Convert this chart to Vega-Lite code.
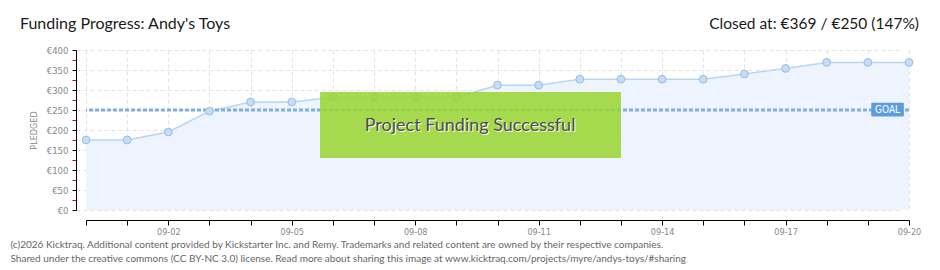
{
  "$schema": "https://vega.github.io/schema/vega-lite/v6.json",
  "width": 823,
  "height": 160,
  "autosize": {"type": "none"},
  "padding": {"left": 86, "top": 50, "right": 31, "bottom": 60},
  "background": "#ffffff",
  "config": {
    "view": {"stroke": null},
    "font": "Lato",
    "axisY": {
      "labelOverlap": false,
      "offset": 10,
      "domainColor": "#000000",
      "tickSize": 4,
      "labelColor": "#888888",
      "labelFont": "DejaVu Sans Condensed",
      "labelFontSize": 9.5,
      "labelPadding": 4,
      "grid": true,
      "gridDash": [4, 3],
      "titleFont": "DejaVu Sans Condensed",
      "titleFontSize": 9,
      "titleFontWeight": "normal",
      "titleColor": "#888888",
      "titlePadding": 8
    }
  },
  "datasets": {
    "series": [
      {"date": "2013-08-31", "pledged": 175},
      {"date": "2013-09-01", "pledged": 175},
      {"date": "2013-09-02", "pledged": 195},
      {"date": "2013-09-03", "pledged": 247},
      {"date": "2013-09-04", "pledged": 270},
      {"date": "2013-09-05", "pledged": 270},
      {"date": "2013-09-06", "pledged": 282},
      {"date": "2013-09-07", "pledged": 282},
      {"date": "2013-09-08", "pledged": 282},
      {"date": "2013-09-09", "pledged": 282},
      {"date": "2013-09-10", "pledged": 312},
      {"date": "2013-09-11", "pledged": 312},
      {"date": "2013-09-12", "pledged": 327},
      {"date": "2013-09-13", "pledged": 327},
      {"date": "2013-09-14", "pledged": 327},
      {"date": "2013-09-15", "pledged": 327},
      {"date": "2013-09-16", "pledged": 340},
      {"date": "2013-09-17", "pledged": 354},
      {"date": "2013-09-18", "pledged": 369},
      {"date": "2013-09-19", "pledged": 369},
      {"date": "2013-09-20", "pledged": 369}
    ]
  },
  "layer": [
    {
      "data": {"name": "series"},
      "mark": {"type": "area", "color": "#edf4fd", "opacity": 1},
      "encoding": {
        "x": {
          "field": "date",
          "type": "temporal",
          "scale": {"type": "utc", "domain": [1377907200000, 1379635200000], "nice": false},
          "axis": {
            "values": [1377907200000, 1377993600000, 1378080000000, 1378166400000, 1378252800000, 1378339200000, 1378425600000, 1378512000000, 1378598400000, 1378684800000, 1378771200000, 1378857600000, 1378944000000, 1379030400000, 1379116800000, 1379203200000, 1379289600000, 1379376000000, 1379462400000, 1379548800000, 1379635200000],
            "labelExpr": "utcdate(datum.value) % 3 == 2 ? utcFormat(datum.value, '%m-%d') : ''",
            "labelOverlap": false,
            "labelFlush": false,
            "offset": 10,
            "domainColor": "#000000",
            "domainWidth": 1,
            "tickColor": "#000000",
            "tickSize": 5,
            "labelColor": "#888888",
            "labelFont": "DejaVu Sans Condensed",
            "labelFontSize": 9,
            "labelPadding": 2,
            "grid": true,
            "gridColor": "#e3e3e3",
            "gridDash": [4, 3],
            "title": [
              "(c)2026 Kicktraq. Additional content provided by Kickstarter Inc. and Remy. Trademarks and related content are owned by their respective companies.",
              "Shared under the creative commons (CC BY-NC 3.0) license. Read more about sharing this image at www.kicktraq.com/projects/myre/andys-toys/#sharing"
            ],
            "titleAnchor": "start",
            "titleAlign": "left",
            "titleBaseline": "alphabetic",
            "titleX": -76,
            "titleY": 27,
            "titleFont": "Lato",
            "titleFontSize": 10,
            "titleFontWeight": "normal",
            "titleColor": "#666666",
            "titleLineHeight": 14
          }
        },
        "y": {
          "field": "pledged",
          "type": "quantitative",
          "scale": {"domain": [0, 400], "nice": false, "zero": true},
          "axis": {
            "values": [0, 25, 50, 75, 100, 125, 150, 175, 200, 225, 250, 275, 300, 325, 350, 375, 400],
            "labelExpr": "datum.value % 50 == 0 ? '€' + datum.value : ''",
            "tickColor": {"condition": {"test": "datum.value % 50 == 0", "value": "#000000"}, "value": "#e00000"},
            "gridColor": {"condition": {"test": "datum.value % 50 == 0", "value": "#e3e3e3"}, "value": "transparent"},
            "title": "PLEDGED"
          }
        }
      }
    },
    {
      "data": {"name": "series"},
      "mark": {"type": "line", "color": "#b8d5f3", "strokeWidth": 1.5},
      "encoding": {
        "x": {"field": "date", "type": "temporal"},
        "y": {"field": "pledged", "type": "quantitative", "axis": {"values": [0, 25, 50, 75, 100, 125, 150, 175, 200, 225, 250, 275, 300, 325, 350, 375, 400]}}
      }
    },
    {
      "data": {"values": [{"goal": 250}]},
      "mark": {"type": "rule", "color": "#7fafe0", "strokeWidth": 3, "strokeDash": [4, 2]},
      "encoding": {"y": {"field": "goal", "type": "quantitative", "axis": {"values": [0, 25, 50, 75, 100, 125, 150, 175, 200, 225, 250, 275, 300, 325, 350, 375, 400]}}}
    },
    {
      "data": {"name": "series"},
      "mark": {"type": "point", "shape": "circle", "filled": true, "size": 60, "fill": "#c6ddf6", "stroke": "#95bce6", "strokeWidth": 1, "opacity": 1},
      "encoding": {
        "x": {"field": "date", "type": "temporal"},
        "y": {"field": "pledged", "type": "quantitative", "axis": {"values": [0, 25, 50, 75, 100, 125, 150, 175, 200, 225, 250, 275, 300, 325, 350, 375, 400]}}
      }
    },
    {
      "data": {"values": [{"label": "Project Funding Successful"}]},
      "mark": {"type": "rect", "fill": "#99d531", "opacity": 0.86},
      "encoding": {
        "x": {"datum": 1378398600000, "type": "temporal"},
        "x2": {"datum": 1379030400000},
        "y": {"datum": 295, "type": "quantitative", "axis": {"values": [0, 25, 50, 75, 100, 125, 150, 175, 200, 225, 250, 275, 300, 325, 350, 375, 400]}},
        "y2": {"datum": 130}
      }
    },
    {
      "data": {"values": [{"label": "Project Funding Successful"}]},
      "mark": {"type": "text", "color": "#ffffff", "fontSize": 18, "font": "Lato", "align": "center", "baseline": "middle", "dx": 1, "dy": 1},
      "encoding": {
        "x": {"datum": 1378713600000, "type": "temporal"},
        "y": {"datum": 210, "type": "quantitative", "axis": {"values": [0, 25, 50, 75, 100, 125, 150, 175, 200, 225, 250, 275, 300, 325, 350, 375, 400]}},
        "text": {"field": "label", "type": "nominal"}
      }
    },
    {
      "data": {"values": [{"label": "Project Funding Successful"}]},
      "mark": {"type": "text", "color": "#4d4d4d", "fontSize": 18, "font": "Lato", "align": "center", "baseline": "middle"},
      "encoding": {
        "x": {"datum": 1378713600000, "type": "temporal"},
        "y": {"datum": 210, "type": "quantitative", "axis": {"values": [0, 25, 50, 75, 100, 125, 150, 175, 200, 225, 250, 275, 300, 325, 350, 375, 400]}},
        "text": {"field": "label", "type": "nominal"}
      }
    },
    {
      "data": {"values": [{"label": "GOAL"}]},
      "mark": {"type": "rect", "fill": "#5b9be0", "cornerRadius": 1},
      "encoding": {
        "x": {"datum": 1379556000000, "type": "temporal"},
        "x2": {"datum": 1379624400000},
        "y": {"datum": 268, "type": "quantitative", "axis": {"values": [0, 25, 50, 75, 100, 125, 150, 175, 200, 225, 250, 275, 300, 325, 350, 375, 400]}},
        "y2": {"datum": 234}
      }
    },
    {
      "data": {"values": [{"label": "GOAL"}]},
      "mark": {"type": "text", "color": "#ffffff", "fontSize": 10, "font": "DejaVu Sans Condensed", "align": "center", "baseline": "middle"},
      "encoding": {
        "x": {"datum": 1379590200000, "type": "temporal"},
        "y": {"datum": 251, "type": "quantitative", "axis": {"values": [0, 25, 50, 75, 100, 125, 150, 175, 200, 225, 250, 275, 300, 325, 350, 375, 400]}},
        "text": {"field": "label", "type": "nominal"}
      }
    },
    {
      "data": {"values": [{"label": "Funding Progress: Andy's Toys"}]},
      "mark": {"type": "text", "color": "#1a1a1a", "fontSize": 16, "font": "Lato", "align": "left", "baseline": "alphabetic", "dx": -66, "clip": false},
      "encoding": {
        "x": {"datum": 1377907200000, "type": "temporal"},
        "y": {"datum": 452, "type": "quantitative", "axis": {"values": [0, 25, 50, 75, 100, 125, 150, 175, 200, 225, 250, 275, 300, 325, 350, 375, 400]}},
        "text": {"field": "label", "type": "nominal"}
      }
    },
    {
      "data": {"values": [{"label": "Closed at: €369 / €250 (147%)"}]},
      "mark": {"type": "text", "color": "#1a1a1a", "fontSize": 15.5, "font": "Lato", "align": "right", "baseline": "alphabetic", "dx": 10, "clip": false},
      "encoding": {
        "x": {"datum": 1379635200000, "type": "temporal"},
        "y": {"datum": 452, "type": "quantitative", "axis": {"values": [0, 25, 50, 75, 100, 125, 150, 175, 200, 225, 250, 275, 300, 325, 350, 375, 400]}},
        "text": {"field": "label", "type": "nominal"}
      }
    }
  ]
}
